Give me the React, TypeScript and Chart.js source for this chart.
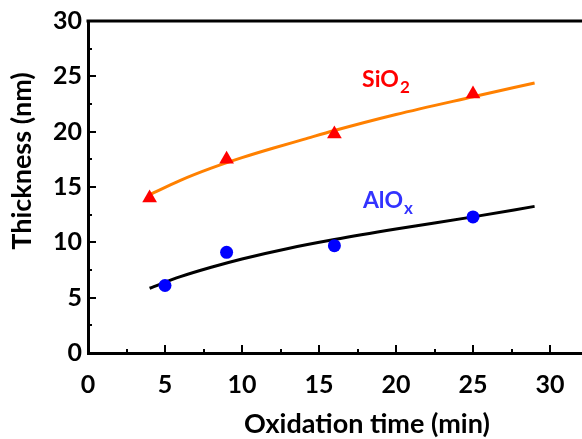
import { useEffect, useRef } from "react";
import { Chart, registerables } from "chart.js";

Chart.register(...registerables);

// Measured points
const sio2Times = [4, 9, 16, 25];
const sio2Thickness = [14.0, 17.5, 19.8, 23.4];
const aloxTimes = [5, 9, 16, 25];
const aloxThickness = [6.1, 9.1, 9.7, 12.3];

// Fit curves
const sio2FitTimes = [4, 6, 8, 10, 12, 14, 16, 20, 25, 29];
const sio2FitThickness = [14.3, 15.6, 16.7, 17.65, 18.5, 19.3, 20.1, 21.55, 23.15, 24.4];
const aloxFitTimes = [4, 6, 8, 10, 13, 16, 20, 25, 29];
const aloxFitThickness = [5.85, 6.9, 7.75, 8.5, 9.45, 10.25, 11.2, 12.3, 13.25];

// Ticks
const xMajorTicks = [5, 10, 15, 20, 25, 30];
const xMinorTicks = [2.5, 7.5, 12.5, 17.5, 22.5, 27.5, 32.5];
const yMajorTicks = [5, 10, 15, 20, 25];
const yMinorTicks = [2.5, 7.5, 12.5, 17.5, 22.5, 27.5];

const xTitle = "Oxidation time (min)";
const yTitle = "Thickness (nm)";

const FONT = "Lato, 'Open Sans', sans-serif";

const pts = (xs: number[], ys: number[]) => xs.map((x, i) => ({ x, y: ys[i] }));

const decorPlugin = {
  id: "decor",
  afterDraw(chart: any) {
    const { ctx, chartArea, scales } = chart;
    const { left, top, right, bottom } = chartArea;
    const xs = scales.x;
    const ys = scales.y;
    ctx.save();
    ctx.strokeStyle = "#000";
    // top frame line
    ctx.lineWidth = 3;
    ctx.beginPath();
    ctx.moveTo(left - 1.5, top);
    ctx.lineTo(right, top);
    ctx.stroke();
    // ticks
    ctx.lineWidth = 2;
    ctx.beginPath();
    xMajorTicks.forEach((v) => {
      const p = Math.round(xs.getPixelForValue(v));
      ctx.moveTo(p, bottom);
      ctx.lineTo(p, bottom - 8);
    });
    xMinorTicks.forEach((v) => {
      const p = Math.round(xs.getPixelForValue(v));
      ctx.moveTo(p, bottom);
      ctx.lineTo(p, bottom - 4);
    });
    yMajorTicks.forEach((v) => {
      const p = Math.round(ys.getPixelForValue(v));
      ctx.moveTo(left, p);
      ctx.lineTo(left + 8, p);
    });
    yMinorTicks.forEach((v) => {
      const p = Math.round(ys.getPixelForValue(v));
      ctx.moveTo(left, p);
      ctx.lineTo(left + 4, p);
    });
    ctx.stroke();

    // axis titles
    ctx.fillStyle = "#000";
    ctx.font = `bold 27px ${FONT}`;
    ctx.textAlign = "center";
    ctx.textBaseline = "alphabetic";
    ctx.fillText(xTitle, 367, 433);
    ctx.save();
    ctx.translate(31, 161);
    ctx.rotate(-Math.PI / 2);
    ctx.fillText(yTitle, 0, 0);
    ctx.restore();

    // series labels
    const drawLabel = (main: string, sub: string, color: string, vx: number, vy: number) => {
      const px = xs.getPixelForValue(vx);
      const py = ys.getPixelForValue(vy);
      ctx.fillStyle = color;
      ctx.textAlign = "left";
      ctx.font = `bold 23px ${FONT}`;
      ctx.fillText(main, px, py);
      const w = ctx.measureText(main).width;
      ctx.font = `bold 17px ${FONT}`;
      ctx.fillText(sub, px + w + 1, py + 6);
    };
    drawLabel("SiO", "2", "#ff0000", 17.8, 24.05);
    drawLabel("AlO", "x", "#3333ff", 17.85, 13.06);
    ctx.restore();
  },
};

export default function App() {
  const ref = useRef<HTMLCanvasElement>(null);
  useEffect(() => {
    if (!ref.current) return;
    const chart = new Chart(ref.current, {
      type: "scatter",
      data: {
        datasets: [
          {
            label: "SiO2",
            data: pts(sio2Times, sio2Thickness),
            pointStyle: "triangle",
            pointRadius: 8.5,
            backgroundColor: "#ff0000",
            borderColor: "#ff0000",
            borderWidth: 0,
            showLine: false,
          },
          {
            label: "AlOx",
            data: pts(aloxTimes, aloxThickness),
            pointStyle: "circle",
            pointRadius: 6.5,
            backgroundColor: "#0000ff",
            borderColor: "#0000ff",
            borderWidth: 0,
            showLine: false,
          },
          {
            label: "SiO2 fit",
            data: pts(sio2FitTimes, sio2FitThickness),
            showLine: true,
            pointRadius: 0,
            borderColor: "#ff8000",
            borderWidth: 3,
            cubicInterpolationMode: "monotone",
            fill: false,
          },
          {
            label: "AlOx fit",
            data: pts(aloxFitTimes, aloxFitThickness),
            showLine: true,
            pointRadius: 0,
            borderColor: "#000000",
            borderWidth: 3,
            cubicInterpolationMode: "monotone",
            fill: false,
          },
        ],
      },
      options: {
        animation: false,
        responsive: false,
        devicePixelRatio: 1,
        layout: { autoPadding: false, padding: { left: 0, top: 20, right: 0, bottom: 0 } },
        plugins: { legend: { display: false }, tooltip: { enabled: false } },
        scales: {
          x: {
            type: "linear",
            min: 0,
            max: 35,
            grid: { display: false, drawTicks: false },
            border: { display: true, color: "#000", width: 3 },
            ticks: {
              stepSize: 5,
              color: "#000",
              padding: 17,
              font: { family: FONT, size: 25, weight: "bold" },
              callback: (v: any) => (v <= 30 ? String(v) : ""),
            },
            afterFit: (s: any) => {
              s.height = 86;
              s.paddingLeft = 0;
              s.paddingRight = 0;
            },
          },
          y: {
            type: "linear",
            min: 0,
            max: 30,
            grid: { display: false, drawTicks: false },
            border: { display: true, color: "#000", width: 3 },
            ticks: {
              stepSize: 5,
              color: "#000",
              padding: 6,
              font: { family: FONT, size: 25, weight: "bold" },
            },
            afterFit: (s: any) => {
              s.width = 88;
            },
          },
        },
      },
      plugins: [decorPlugin],
    } as any);
    return () => chart.destroy();
  }, []);
  return (
    <div
      style={{
        position: "fixed",
        left: 0,
        top: 0,
        width: 582,
        height: 439,
        overflow: "hidden",
        background: "#fff",
      }}
    >
      <canvas ref={ref} width={627} height={439} style={{ width: 627, height: 439, display: "block" }} />
    </div>
  );
}
